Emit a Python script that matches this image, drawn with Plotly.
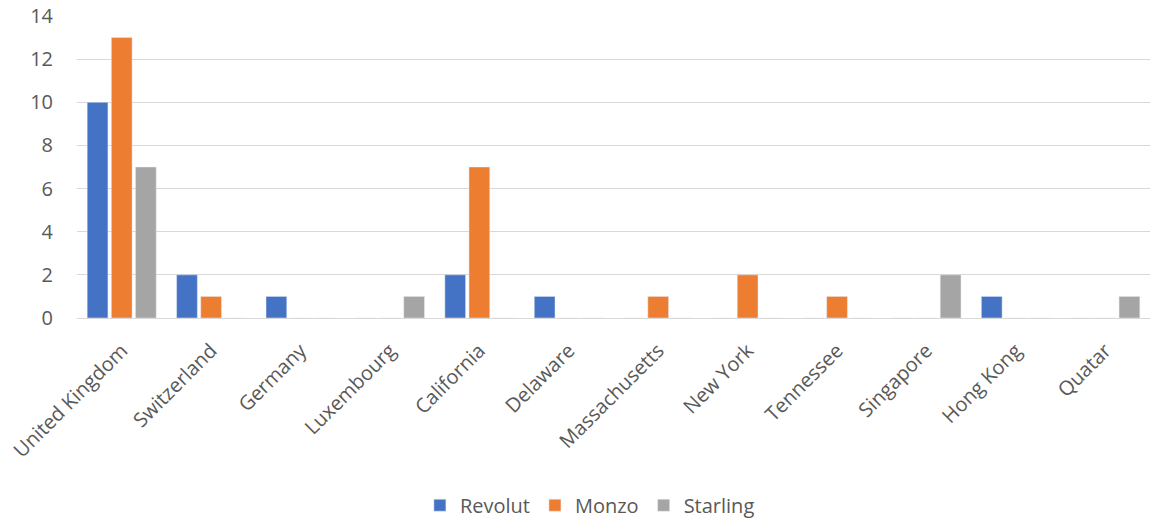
import plotly.graph_objects as go

categories = ["United Kingdom", "Switzerland", "Germany", "Luxembourg", "California",
              "Delaware", "Massachusetts", "New York", "Tennessee", "Singapore",
              "Hong Kong", "Quatar"]
revolut = [10, 2, 1, 0, 2, 1, 0, 0, 0, 0, 1, 0]
monzo = [13, 1, 0, 0, 7, 0, 1, 2, 1, 0, 0, 0]
starling = [7, 0, 0, 1, 0, 0, 0, 0, 0, 2, 0, 1]
y_ticks = [0, 2, 4, 6, 8, 10, 12, 14]

series = [("Revolut", revolut, "#4472C4"),
          ("Monzo", monzo, "#ED7D31"),
          ("Starling", starling, "#A5A5A5")]

fig = go.Figure()
for name, vals, color in series:
    fig.add_trace(go.Bar(name=name, x=categories, y=vals, marker_color=color))

font_family = "Open Sans, Lato, sans-serif"
fig.update_layout(
    width=1154, height=519,
    margin=dict(l=77, r=4, t=16, b=201, autoexpand=False),
    paper_bgcolor="white", plot_bgcolor="white",
    barmode="group", bargap=0.19, bargroupgap=0.14,
    font=dict(family=font_family, size=19, color="#595959"),
    legend=dict(orientation="h", x=0.478, xanchor="center", y=-0.62, yanchor="middle",
                font=dict(size=20, color="#595959"), itemwidth=30, traceorder="normal"),
    xaxis=dict(tickangle=-45, showgrid=False, showline=False, ticks="", automargin=False,
               ticklabelstandoff=16,
               tickfont=dict(size=20, color="#595959")),
    yaxis=dict(range=[0, 14], tickvals=y_ticks, showgrid=True, gridcolor="#D9D9D9",
               gridwidth=1, zeroline=True, zerolinecolor="#D9D9D9", zerolinewidth=1,
               ticks="", showline=False, ticklabelstandoff=23, automargin=False,
               tickfont=dict(size=20, color="#595959")),
)
fig.write_html("out.html")
